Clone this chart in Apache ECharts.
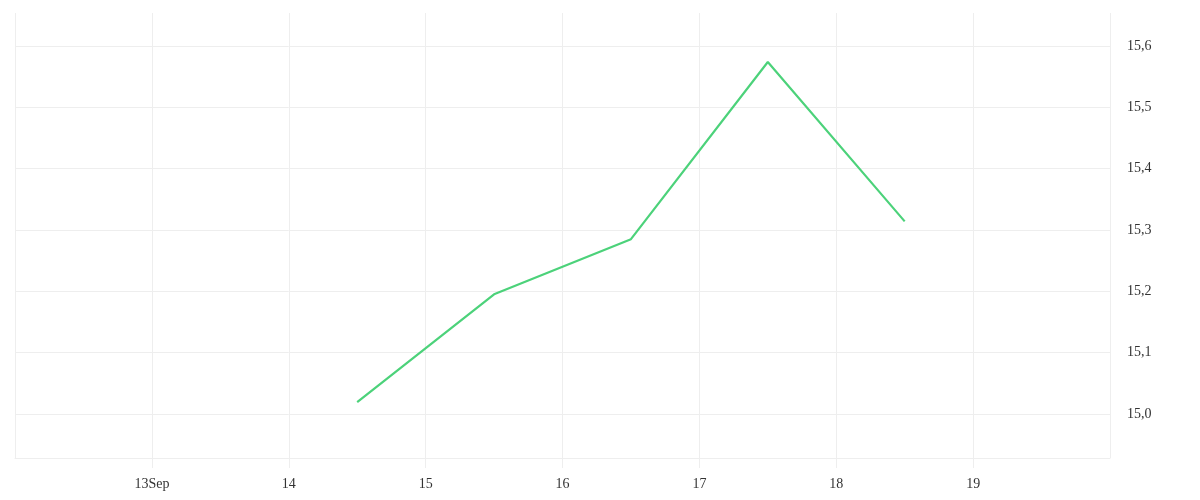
<!DOCTYPE html>
<html>
<head>
<meta charset="utf-8">
<script src="https://cdn.jsdelivr.net/npm/echarts@6/dist/echarts.min.js"></script>
<style>
  html, body { margin: 0; padding: 0; background: #fff; }
  #main { width: 1200px; height: 500px; }
</style>
</head>
<body>
<div id="main"></div>
<script>
// data
const pointDates = ['2023-09-14T12:00:00Z', '2023-09-15T12:00:00Z', '2023-09-16T12:00:00Z', '2023-09-17T12:00:00Z', '2023-09-18T12:00:00Z']
const pointValues = [15.019, 15.195, 15.285, 15.574, 15.314]

const tickDays = [13, 14, 15, 16, 17, 18, 19]
const tickLabels = ['13Sep', '14', '15', '16', '17', '18', '19']

const xStart = '2023-09-12T00:00:00Z'
const xEnd = '2023-09-20T00:00:00Z'
const DAY = 86400000

let myChart = echarts.init(document.getElementById('main'))

let seriesData = pointDates.map(function (d, i) {
   return [Date.parse(d), pointValues[i]]
})

myChart.setOption({
   animation: false,
   textStyle: { fontFamily: 'Liberation Serif' },
   grid: {
      left: 15,
      right: 90,
      top: 13,
      bottom: 42
   },
   xAxis: {
      type: 'value',
      min: Date.parse(xStart),
      max: Date.parse(xEnd),
      interval: DAY,
      axisLine: { show: true, lineStyle: { color: '#eeeeee' } },
      axisTick: { show: true, length: 10, lineStyle: { color: '#eeeeee' } },
      axisLabel: {
         showMinLabel: false,
         showMaxLabel: false,
         margin: 19,
         fontSize: 14,
         color: '#333',
         fontFamily: 'Liberation Serif',
         formatter: function (v) {
            let day = new Date(v).getUTCDate()
            let i = tickDays.indexOf(day)
            return i < 0 ? '' : tickLabels[i]
         }
      },
      splitLine: { show: true, lineStyle: { color: '#eeeeee' } }
   },
   yAxis: {
      type: 'value',
      position: 'right',
      min: 14.928,
      max: 15.654,
      scale: true,
      axisLine: { show: false },
      axisTick: { show: false },
      axisLabel: {
         showMinLabel: false,
         showMaxLabel: false,
         margin: 17,
         padding: [6, 0, 0, 0],
         fontSize: 14,
         color: '#333',
         fontFamily: 'Liberation Serif',
         formatter: function (v) {
            return v.toFixed(1).replace('.', ',')
         }
      },
      splitLine: {
         show: true,
         showMaxLine: false,
         lineStyle: { color: '#eeeeee' }
      }
   },
   series: [{
      type: 'line',
      data: seriesData,
      showSymbol: false,
      symbol: 'none',
      lineStyle: { color: '#4cd27a', width: 2.2 },
      itemStyle: { color: '#4cd27a' }
   }]
})
</script>
</body>
</html>
